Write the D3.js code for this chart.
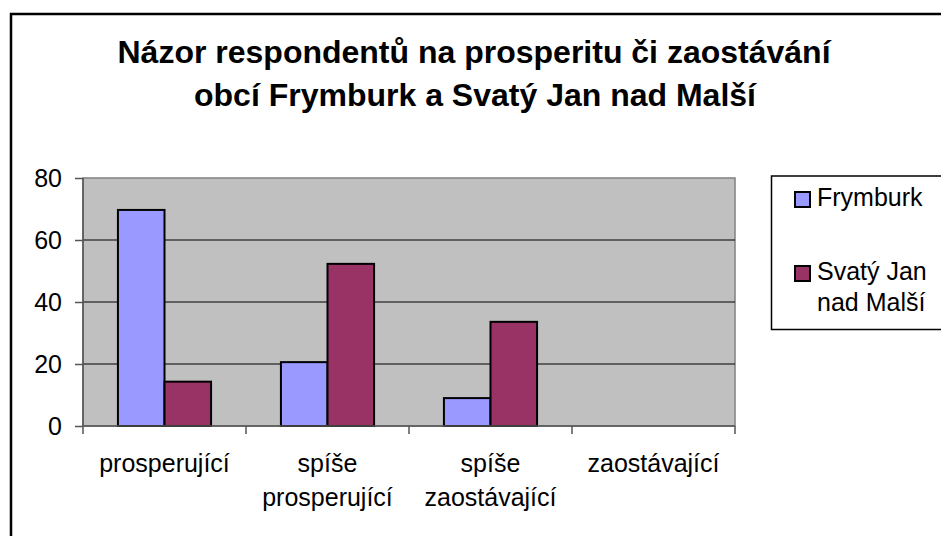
<!DOCTYPE html>
<html>
<head>
  <meta charset="utf-8">
  <script src="https://d3js.org/d3.v7.min.js"></script>
  <style>
    body { margin: 0; background: #ffffff; }
    svg { display: block; font-family: "Liberation Sans", Arial, sans-serif; }
    .grid line { stroke: #000000; stroke-width: 1; }
    .axis path, .axis line { stroke: #555555; stroke-width: 1.5; }
    .axis text { font-size: 25px; fill: #000000; }
    .bar { stroke: #000000; stroke-width: 2; }
  </style>
</head>
<body>
<script>
// data
var categories = [["prosperující"], ["spíše", "prosperující"], ["spíše", "zaostávající"], ["zaostávající"]];
var seriesNames = ["Frymburk", "Svatý Jan nad Malší"];
var frymburk = [69.7, 20.6, 9.0, 0];
var svatyJan = [14.3, 52.3, 33.6, 0];
var yTicks = [0, 20, 40, 60, 80];
var colors = ["#9999FF", "#993366"];

var width = 941, height = 536;
var plot = { left: 83, top: 178, right: 735, bottom: 426 };

var svg = d3.select("body").append("svg")
  .attr("width", width).attr("height", height);

// outer chart frame (runs past the bottom/right edge)
svg.append("rect")
  .attr("x", 11).attr("y", 14)
  .attr("width", 1000).attr("height", 600)
  .attr("fill", "none").attr("stroke", "#000").attr("stroke-width", 2.5);

// title
var title = svg.append("text")
  .attr("text-anchor", "middle")
  .style("font-weight", "bold").style("font-size", "32px");
title.append("tspan").attr("x", 474).attr("y", 63).text("Názor respondentů na prosperitu či zaostávání");
title.append("tspan").attr("x", 475).attr("y", 106).text("obcí Frymburk a Svatý Jan nad Malší");

var keys = categories.map(function(c, i) { return i; });

var x = d3.scaleBand().domain(keys).range([plot.left, plot.right]);
var y = d3.scaleLinear().domain([0, 80]).range([plot.bottom, plot.top]);

// bar width with excel style gap 150%
var barW = x.bandwidth() / 3.5;

svg.append("rect")
  .attr("x", plot.left).attr("y", plot.top)
  .attr("width", plot.right - plot.left).attr("height", plot.bottom - plot.top)
  .attr("fill", "#C0C0C0").attr("stroke", "#808080").attr("stroke-width", 1.5);

svg.append("g").attr("class", "grid")
  .selectAll("line")
  .data(yTicks.filter(function(t) { return t > 0 && t < 80; }))
  .enter().append("line")
  .attr("x1", plot.left).attr("x2", plot.right)
  .attr("y1", function(d) { return y(d); })
  .attr("y2", function(d) { return y(d); });

var values = [frymburk, svatyJan];

values.forEach(function(vals, s) {
  svg.append("g").selectAll("rect")
    .data(vals)
    .enter().append("rect")
    .attr("class", "bar")
    .attr("fill", colors[s])
    .attr("x", function(d, i) { return x(i) + 0.75 * barW + s * barW; })
    .attr("width", barW)
    .attr("y", function(d) { return y(d); })
    .attr("height", function(d) { return y(0) - y(d); })
    .style("display", function(d) { return d > 0 ? null : "none"; });
});

// y axis
var yAxis = svg.append("g").attr("class", "axis")
  .attr("transform", "translate(" + plot.left + ",0)")
  .call(d3.axisLeft(y).tickValues(yTicks).tickSize(8).tickPadding(13));
yAxis.select(".domain").attr("d", "M0," + plot.top + "V" + plot.bottom);

// x axis
var xAxis = svg.append("g").attr("class", "axis")
  .attr("transform", "translate(0," + plot.bottom + ")");
xAxis.append("line")
  .attr("x1", plot.left).attr("x2", plot.right);
xAxis.selectAll(".tick")
  .data(keys.concat([keys.length]))
  .enter().append("line")
  .attr("x1", function(d) { return plot.left + d * x.bandwidth(); })
  .attr("x2", function(d) { return plot.left + d * x.bandwidth(); })
  .attr("y1", 0).attr("y2", 8);

var labels = xAxis.selectAll(".lbl")
  .data(categories)
  .enter().append("text")
  .attr("text-anchor", "middle");
labels.selectAll("tspan")
  .data(function(d, i) { return d.map(function(t, j) { return { t: t, i: i, j: j }; }); })
  .enter().append("tspan")
  .attr("x", function(d) { return x(d.i) + x.bandwidth() / 2; })
  .attr("y", function(d) { return 46 + d.j * 34; })
  .text(function(d) { return d.t; });

// legend
var legend = svg.append("g").style("font-size", "25px");
legend.append("rect")
  .attr("x", 771.5).attr("y", 176)
  .attr("width", 200).attr("height", 153.5)
  .attr("fill", "#fff").attr("stroke", "#000").attr("stroke-width", 1.5);

var legendRows = [
  { name: ["Frymburk"], y: 192 },
  { name: ["Svatý Jan", "nad Malší"], y: 266 }
];
legendRows.forEach(function(r, i) {
  legend.append("rect")
    .attr("x", 795).attr("y", r.y)
    .attr("width", 15).attr("height", 15)
    .attr("fill", colors[i]).attr("stroke", "#000").attr("stroke-width", 2);
  var t = legend.append("text");
  r.name.forEach(function(line, j) {
    t.append("tspan").attr("x", 817).attr("y", r.y + 14 + j * 31).text(line);
  });
});
</script>
</body>
</html>
